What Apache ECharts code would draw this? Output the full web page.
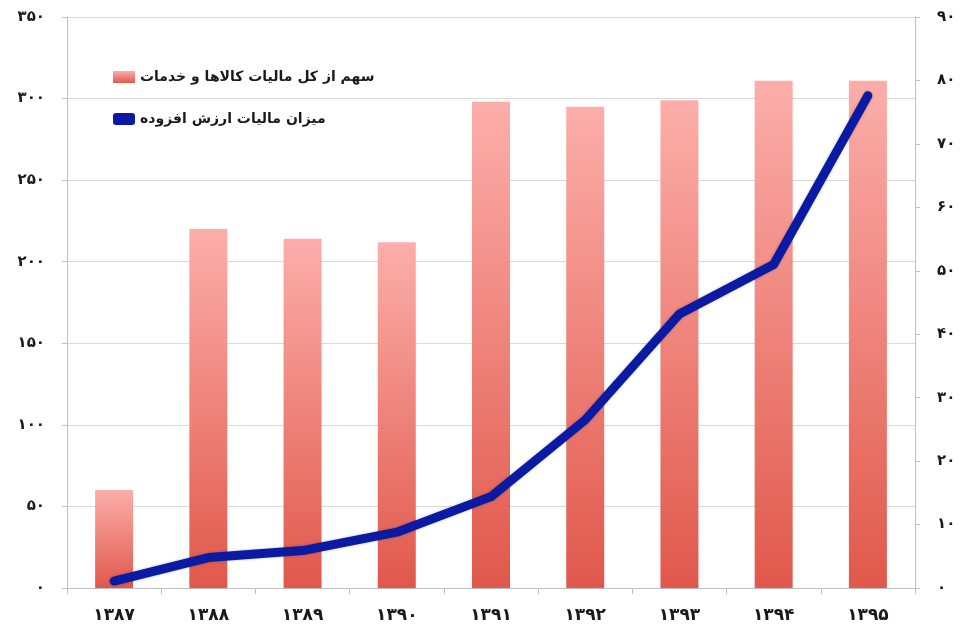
<!DOCTYPE html>
<html style="height: 100%">

<head>
    <meta charset="utf-8">
    <title>bar line</title>
    <script type="text/javascript" src="https://cdn.jsdelivr.net/npm/echarts@6/dist/echarts.min.js"></script>
    <style>
        html, body {
            margin: 0;
            padding: 0;
            height: 100%;
            width: 100%;
            background: #ffffff;
        }

        #chart {
            width: 962px;
            height: 629px;
        }
    </style>
</head>

<body>
    <div id="chart"></div>
    <script type="text/javascript">
        // سال‌ها
        var years = ['۱۳۸۷', '۱۳۸۸', '۱۳۸۹', '۱۳۹۰', '۱۳۹۱', '۱۳۹۲', '۱۳۹۳', '۱۳۹۴', '۱۳۹۵'];
        // سهم از کل مالیات کالاها و خدمات (محور چپ)
        var shareValues = [60, 220, 214, 212, 298, 295, 299, 311, 311];
        // میزان مالیات ارزش افزوده (محور راست)
        var vatValues = [1.1, 4.8, 5.9, 8.8, 14.4, 26.5, 43.2, 51, 77.6];

        var barName = 'سهم از کل مالیات کالاها و خدمات';
        var lineName = 'میزان مالیات ارزش افزوده';

        var leftMax = 350, leftStep = 50;
        var rightMax = 90, rightStep = 10;

        var faDigits = ['۰', '۱', '۲', '۳', '۴', '۵', '۶', '۷', '۸', '۹'];
        function toFa(v) {
            return String(v).replace(/[0-9]/g, function (d) { return faDigits[+d]; });
        }

        var font = '"DejaVu Sans", sans-serif';
        var dom = document.getElementById('chart');
        var chart = echarts.init(dom);

        var barGradient = new echarts.graphic.LinearGradient(0, 0, 0, 1, [
            { offset: 0, color: '#fcaeaa' },
            { offset: 1, color: '#e0584b' }
        ]);

        var option = {
            animation: false,
            backgroundColor: '#ffffff',
            grid: {
                left: 67,
                right: 47,
                top: 17,
                bottom: 41
            },
            legend: {
                orient: 'vertical',
                left: 108,
                top: 65,
                itemWidth: 22,
                itemHeight: 12,
                itemGap: 28,
                textStyle: {
                    fontFamily: font,
                    fontWeight: 'bold',
                    fontSize: 14,
                    color: '#1a1a1a'
                },
                data: [
                    { name: barName, icon: 'rect' },
                    { name: lineName, icon: 'roundRect' }
                ]
            },
            xAxis: {
                type: 'category',
                data: years,
                axisLine: { lineStyle: { color: '#bfbfbf' } },
                axisTick: { show: true, length: 6, lineStyle: { color: '#bfbfbf' } },
                axisLabel: {
                    margin: 19,
                    fontFamily: font,
                    fontWeight: 'bold',
                    fontSize: 17,
                    color: '#1a1a1a'
                }
            },
            yAxis: [{
                type: 'value',
                min: 0,
                max: leftMax,
                interval: leftStep,
                axisLine: { show: true, lineStyle: { color: '#bfbfbf' } },
                axisTick: { show: true, length: 5, lineStyle: { color: '#bfbfbf' } },
                splitLine: { lineStyle: { color: '#d9d9d9' } },
                axisLabel: {
                    margin: 22,
                    fontFamily: font,
                    fontWeight: 'bold',
                    fontSize: 15,
                    color: '#1a1a1a',
                    formatter: function (v) { return toFa(v); }
                }
            }, {
                type: 'value',
                min: 0,
                max: rightMax,
                interval: rightStep,
                position: 'right',
                axisLine: { show: true, lineStyle: { color: '#bfbfbf' } },
                axisTick: { show: true, length: 5, lineStyle: { color: '#bfbfbf' } },
                splitLine: { show: false },
                axisLabel: {
                    margin: 22,
                    fontFamily: font,
                    fontWeight: 'bold',
                    fontSize: 15,
                    color: '#1a1a1a',
                    formatter: function (v) { return toFa(v); }
                }
            }],
            series: [{
                name: barName,
                type: 'bar',
                yAxisIndex: 0,
                barWidth: 38,
                itemStyle: { color: barGradient },
                data: shareValues
            }, {
                name: lineName,
                type: 'line',
                yAxisIndex: 1,
                showSymbol: false,
                symbol: 'none',
                lineStyle: {
                    color: '#0b1aa3',
                    width: 9,
                    cap: 'round',
                    join: 'round',
                    shadowColor: 'rgba(0,0,0,0.25)',
                    shadowBlur: 3
                },
                itemStyle: { color: '#0b1aa3' },
                data: vatValues
            }]
        };

        chart.setOption(option);
    </script>
</body>

</html>
